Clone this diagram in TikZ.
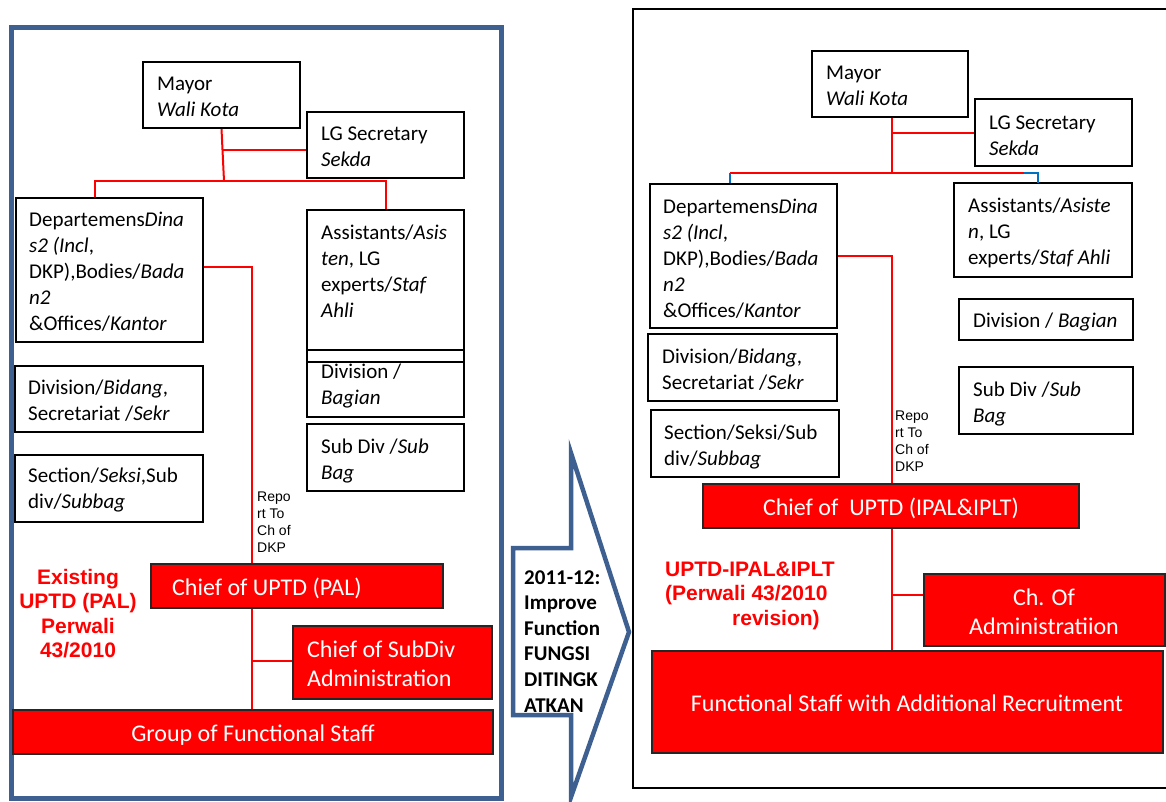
\documentclass[tikz,border=0pt]{standalone}
\usepackage{fontspec}
\setmainfont{Carlito}
\newfontfamily\arialfont{Liberation Sans}
\usetikzlibrary{fit,calc}
\definecolor{frameblue}{RGB}{62,96,145}
\definecolor{tickblue}{RGB}{0,112,192}
\definecolor{boxred}{RGB}{255,0,0}
% stacked lines whose baseline is the first line
\newcommand\stkl[1]{\vtop{\halign{##\hfil\cr#1\crcr}}}
\newcommand\stkc[1]{\vtop{\halign{\hfil##\hfil\cr#1\crcr}}}
\begin{document}
\begin{tikzpicture}[x=1pt,y=-1pt,
  orgbox/.style={draw=black, line width=2pt, inner sep=0pt},
  redbox/.style={draw=black!85, fill=boxred, line width=2pt, inner sep=0pt},
  boxtext/.style={inner sep=0pt, anchor=base west, font=\fontsize{21}{26}\selectfont},
  redtext/.style={inner sep=0pt, text=white, font=\fontsize{24}{29}\selectfont},
  note/.style={inner sep=0pt, anchor=base west, font=\arialfont\fontsize{14}{17}\selectfont},
  caption/.style={inner sep=0pt, text=red, font=\arialfont\bfseries\fontsize{21}{24.5}\selectfont},
  link/.style={draw=red, line width=2pt},
  thinlink/.style={draw=red, line width=1.5pt},
  tickline/.style={draw=tickblue, line width=2pt}]
\useasboundingbox (0,0) rectangle (1166,801);
\clip (0,0) rectangle (1166,801);
\fill[white] (0,0) rectangle (1166,801);

% ---------------- existing organisation ----------------
\draw[frameblue, line width=5pt] (11.5,27) rectangle (501.5,798);

\node[orgbox, fit={(143,62)(300,128)}] (mayorL) {};
\node[boxtext] (mayorLt) at (157,90) {\stkl{Mayor\cr\textit{Wali Kota}}};
\node[orgbox, fit={(307,112)(464,178)}] (lgL) {};
\node[boxtext] (lgLt) at (321,140) {\stkl{LG Secretary\cr\textit{Sekda}}};
\node[orgbox, fit={(16,198)(203,342)}] (deptL) {};
\node[boxtext] (deptLt) at (29,226) {\stkl{Departemens\textit{Dina}\cr\textit{s2 (Incl},\cr DKP),Bodies/\textit{Bada}\cr\textit{n2}\cr\&Offices/\textit{Kantor}}};
\node[orgbox, fit={(307,210)(464,362)}] (asstL) {};
\node[boxtext] (asstLt) at (321,239) {\stkl{Assistants/\textit{Asis}\cr\textit{ten}, LG\cr experts/\textit{Staf}\cr\textit{Ahli}}};
\node[orgbox, fit={(307,350)(464,417)}] (bagL) {};
\node[boxtext] (bagLt) at (321,378) {\stkl{Division /\cr\textit{Bagian}}};
\node[orgbox, fit={(15,366)(203,432)}] (bidL) {};
\node[boxtext] (bidLt) at (28,394) {\stkl{Division/\textit{Bidang},\cr Secretariat /\textit{Sekr}}};
\node[orgbox, fit={(15,455)(203,522)}] (sectL) {};
\node[boxtext] (sectLt) at (28,482) {\stkl{Section/\textit{Seksi},Sub\cr div/\textit{Subbag}}};
\node[orgbox, fit={(307,424)(464,491)}] (subL) {};
\node[boxtext] (subLt) at (321,453) {\stkl{Sub Div /\textit{Sub}\cr\textit{Bag}}};

\node[redbox, fit={(151,564)(443,608)}] (chiefL) {};
\node[redtext, anchor=base west] (chiefLt) at (172,595) {Chief of UPTD (PAL)};
\node[redbox, fit={(293,626)(492,699)}] (adminL) {};
\node[redtext, anchor=base west] (adminLt) at (307,657) {\stkl{Chief of SubDiv\cr Administration}};
\node[redbox, fit={(13,710)(493,754)}] (groupL) {};
\node[redtext, anchor=base] (groupLt) at (253,741) {Group of Functional Staff};

\node[note] (noteL) at (257,501) {\stkl{Repo\cr rt To\cr Ch of\cr DKP}};
\node[caption, anchor=base] (capL) at (78,584) {\stkc{Existing\cr UPTD (PAL)\cr Perwali\cr 43/2010}};

% connectors
\coordinate (barL) at (224,181);
\coordinate (secL) at (222,150);
\coordinate (repL) at (252,267);
\draw[link] (mayorL.south) -- (barL);
\draw[thinlink] (secL) -- (secL -| lgL.west);
\draw[link] ($(deptL.north west)+(80,0)$) |- (barL) -| (asstL.north);
\draw[link] (deptL.east |- repL) -- (repL) -- (repL |- chiefL.north);
\draw[link] (repL |- chiefL.south) -- (repL |- groupL.north);
\draw[link] (repL |- 0,661) -- (adminL.west |- 0,661);

% ---------------- transition arrow ----------------
\draw[frameblue, line width=4.5pt, line join=miter]
  (513,548) -- (571,548) -- (571,453) -- (629,632) -- (571,797) -- (571,715) -- (513,715) -- cycle;
\node[inner sep=0pt, anchor=base west, font=\bfseries\fontsize{21}{25.6}\selectfont] (arrowt) at (524,584)
  {\stkl{2011-12:\cr Improve\cr Function\cr FUNGSI\cr DITINGK\cr ATKAN}};

% ---------------- improved organisation ----------------
\draw[black, line width=2pt] (1180,9) -- (633,9) -- (633,788) -- (1180,788);

\node[orgbox, fit={(812,51)(968,117)}] (mayorR) {};
\node[boxtext] (mayorRt) at (826,79) {\stkl{Mayor\cr\textit{Wali Kota}}};
\node[orgbox, fit={(975,99)(1132,166)}] (lgR) {};
\node[boxtext] (lgRt) at (989,129) {\stkl{LG Secretary\cr\textit{Sekda}}};
\node[orgbox, fit={(650,184)(837,328)}] (deptR) {};
\node[boxtext] (deptRt) at (663,213) {\stkl{Departemens\textit{Dina}\cr\textit{s2 (Incl},\cr DKP),Bodies/\textit{Bada}\cr\textit{n2}\cr\&Offices/\textit{Kantor}}};
\node[orgbox, fit={(954,183)(1132,277)}] (asstR) {};
\node[boxtext] (asstRt) at (968,212) {\stkl{Assistants/\textit{Asiste}\cr\textit{n}, LG\cr experts/\textit{Staf Ahli}}};
\node[orgbox, fit={(959,299)(1133,340)}] (bagR) {};
\node[boxtext] (bagRt) at (973,327) {Division / \textit{Bagian}};
\node[orgbox, fit={(648,334)(837,401)}] (bidR) {};
\node[boxtext] (bidRt) at (662,363) {\stkl{Division/\textit{Bidang},\cr Secretariat /\textit{Sekr}}};
\node[orgbox, fit={(651,410)(839,477)}] (sectR) {};
\node[boxtext] (sectRt) at (664,439) {\stkl{Section/Seksi/Sub\cr div/\textit{Subbag}}};
\node[orgbox, fit={(959,367)(1133,434)}] (subR) {};
\node[boxtext] (subRt) at (973,396) {\stkl{Sub Div /\textit{Sub}\cr\textit{Bag}}};

\node[redbox, fit={(703,484)(1079,528)}] (chiefR) {};
\node[redtext, anchor=base] (chiefRt) at (891,515) {Chief of\ \ UPTD (IPAL\&IPLT)};
\node[redbox, fit={(924,574)(1165,646)}] (adminR) {};
\node[redtext, anchor=base] (adminRt) at (1044,605) {\stkc{Ch. Of\cr Administratiion}};
\node[redbox, fit={(652,651)(1163,753)}] (funcR) {};
\node[redtext, anchor=base] (funcRt) at (907,711) {Functional Staff with Additional Recruitment};

\node[note] (noteR) at (895,420) {\stkl{Repo\cr rt To\cr Ch of\cr DKP}};
\node[caption, anchor=base west] (capR) at (665,576) {\stkl{UPTD-IPAL\&IPLT\cr (Perwali 43/2010\cr\kern67pt revision)}};

% connectors
\coordinate (barR) at (892,173);
\coordinate (secR) at (892,133);
\coordinate (repR) at (892,256);
\coordinate (tickLR) at (730,173);
\coordinate (tickRR) at (1024,173);
\draw[link] (mayorR.south -| barR) -- (barR);
\draw[thinlink] (secR) -- (secR -| lgR.west);
\draw[link] (tickLR) -- (tickRR);
\draw[tickline] (tickLR) -- (tickLR |- deptR.north);
\draw[tickline] (tickRR) -- (1038,173) -- (1038,183);
\draw[link] (deptR.east |- repR) -- (repR) -- (repR |- chiefR.north);
\draw[link] (repR |- chiefR.south) -- (repR |- funcR.north);
\draw[link] (repR |- 0,595) -- (adminR.west |- 0,595);
\end{tikzpicture}
\end{document}
